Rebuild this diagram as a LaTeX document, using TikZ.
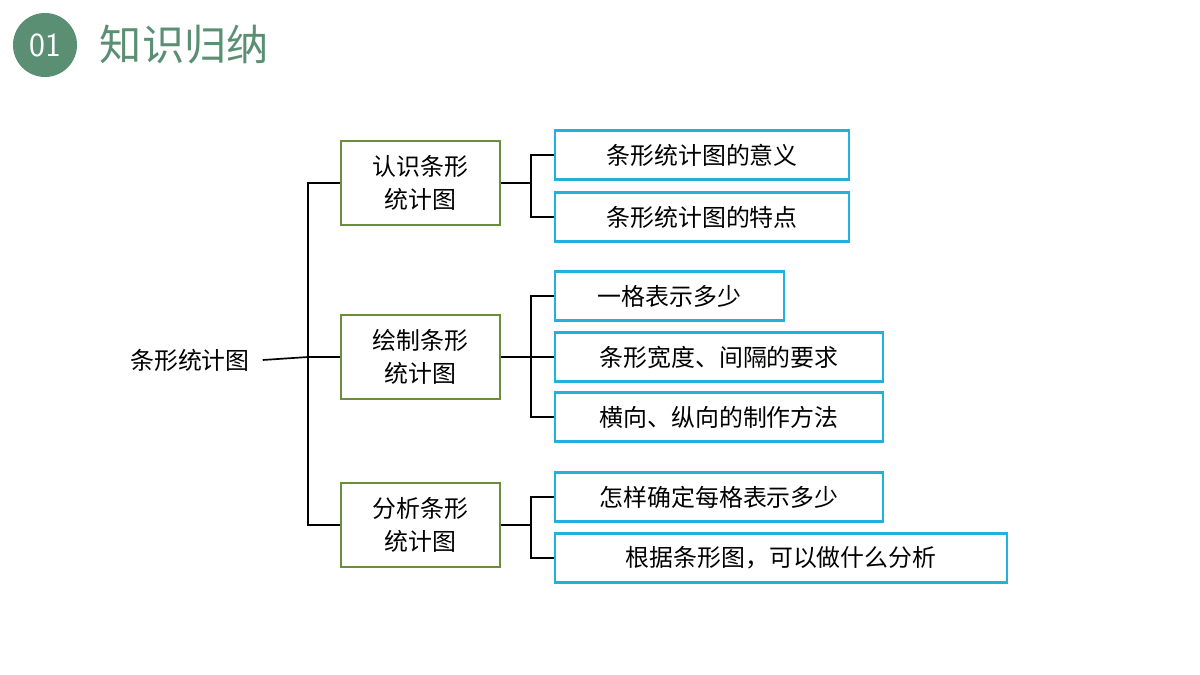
\documentclass[tikz,border=0pt]{standalone}
\usepackage{fontspec}
\newfontfamily\cjk{Noto Sans CJK SC}
\definecolor{titlegreen}{HTML}{5A8F73}
\definecolor{midgreen}{HTML}{6B8E3A}
\definecolor{leafblue}{HTML}{22B0DD}
\tikzset{
  mid/.style={rectangle, draw=midgreen, line width=1.5pt, minimum width=159\px, minimum height=84\px, align=center, font=\cjk\fontsize{17}{24}\selectfont},
  leaf/.style={rectangle, draw=leafblue, line width=1.5pt, minimum height=49\px, anchor=west, font=\cjk\fontsize{17}{20}\selectfont},
  link/.style={line width=1.2pt}
}
\newcommand{\px}{pt*0.7113}
\begin{document}
\begin{tikzpicture}[x=0.025cm, y=-0.025cm]
\useasboundingbox (0,0) rectangle (1200,675);

\node[circle, fill=titlegreen, minimum size=64\px, text=white, font=\fontsize{24}{24}\selectfont\sffamily] (num) at (45,45) {01};
\node[anchor=west, text=titlegreen, font=\cjk\fontsize{30}{30}\selectfont] (title) at (95,45) {知识归纳};

\node[font=\cjk\fontsize{17}{20}\selectfont] (root) at (190,360) {条形统计图};

\node[mid] (m1) at (420.5,183) {认识条形\\统计图};
\node[mid] (m2) at (420.5,357) {绘制条形\\统计图};
\node[mid] (m3) at (420.5,525) {分析条形\\统计图};

\node[leaf, minimum width=294\px] (l1) at (554,155) {条形统计图的意义};
\node[leaf, minimum width=294\px] (l2) at (554,217) {条形统计图的特点};
\node[leaf, minimum width=229\px] (l3) at (554,296) {一格表示多少};
\node[leaf, minimum width=328\px] (l4) at (554,357) {条形宽度、间隔的要求};
\node[leaf, minimum width=328\px] (l5) at (554,417) {横向、纵向的制作方法};
\node[leaf, minimum width=328\px] (l6) at (554,497) {怎样确定每格表示多少};
\node[leaf, minimum width=452\px] (l7) at (554,558) {根据条形图，可以做什么分析};

\coordinate (rj) at (308,357);
\draw[link] (root.east) ++(8\px,0) -- (rj);
\draw[link] (m1.west) -| (rj) |- (m3.west);
\draw[link] (rj) -- (m2.west);

\draw[link] (m1.east) -- ++(30,0) coordinate (j1);
\draw[link] (l1.west) -| (j1) |- (l2.west);
\draw[link] (m2.east) -- ++(30,0) coordinate (j2);
\draw[link] (l3.west) -| (j2) |- (l5.west);
\draw[link] (j2) -- (l4.west);
\draw[link] (m3.east) -- ++(30,0) coordinate (j3);
\draw[link] (l6.west) -| (j3) |- (l7.west);

\end{tikzpicture}
\end{document}
